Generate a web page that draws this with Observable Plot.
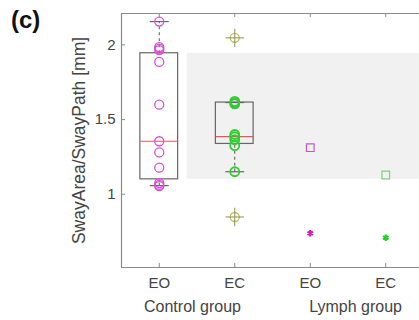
<!DOCTYPE html>
<html>
<head>
<meta charset="utf-8">
<script src="https://cdn.jsdelivr.net/npm/d3@7"></script>
<script src="https://cdn.jsdelivr.net/npm/@observablehq/plot@0.6"></script>
<style>
  body { margin: 0; background: #fff; }
  #wrap { position: relative; width: 419px; height: 320px; overflow: hidden; font-family: "Liberation Sans", Arial, sans-serif; }
  #panel { position: absolute; left: 11px; top: 8px; font-weight: bold; font-size: 24px; color: #111; line-height: 1; }
  #chart { position: absolute; left: 0; top: 0; }
</style>
</head>
<body>
<div id="wrap">
  <div id="chart"></div>
  <div id="panel">(c)</div>
</div>
<script>
// Sway ratio per condition (EO = eyes open, EC = eyes closed)
const conditions = ["EO", "EC", "EO", "EC"];
const conditionPos = [1, 2, 3, 4];
const groupNames = ["Control group", "Lymph group"];
const groupLabelPos = [1.44, 3.6];
const yTicks = [1, 1.5, 2];

// Control group, individual subjects
const controlEO = [2.156, 1.985, 1.975, 1.965, 1.886, 1.60, 1.355, 1.28, 1.178, 1.075, 1.063, 1.055];
const controlEC = [1.622, 1.612, 1.605, 1.40, 1.385, 1.365, 1.326, 1.151];
const controlECOutliers = [2.047, 0.848];

// Box summaries for the control group (EO, EC)
const boxPos = [1, 2];
const boxQ1 = [1.10, 1.337];
const boxMedian = [1.355, 1.386];
const boxQ3 = [1.944, 1.614];
const whiskerLow = [1.058, 1.151];
const whiskerHigh = [2.156, 1.614];

// Lymph group: two subjects per condition
const lymphEOSquare = [1.312];
const lymphEOStar = [0.739];
const lymphECSquare = [1.129];
const lymphECStar = [0.709];

// Reference band: control EO interquartile range
const bandStart = 1.37;
const xDomain = [0.5, 4.447];
const yDomain = [0.51, 2.21];

const boxes = boxPos.map((p, i) => ({
  pos: p, q1: boxQ1[i], med: boxMedian[i], q3: boxQ3[i], lo: whiskerLow[i], hi: whiskerHigh[i]
}));
const half = 0.25, capHalf = 0.125;

const magenta = "#d94fd9";
const green = "#2ecc2e";
const olive = "#b9c25a";
const axisColor = "#8a8a8a";
const textColor = "#444";

const chart = Plot.plot({
  width: 419,
  height: 320,
  marginLeft: 121,
  marginRight: 0,
  marginTop: 13,
  marginBottom: 53,
  x: { domain: xDomain, axis: null },
  y: { domain: yDomain, axis: null },
  style: { fontFamily: "Liberation Sans, Arial, sans-serif", background: "white" },
  marks: [
    // shaded reference band
    Plot.rect([boxes[0]], { x1: bandStart, x2: xDomain[1], y1: "q1", y2: "q3", fill: "#f1f1f1" }),

    // whiskers
    Plot.link(boxes, { x1: "pos", x2: "pos", y1: "q3", y2: "hi", stroke: "#555", strokeDasharray: "3,3", strokeWidth: 1 }),
    Plot.link(boxes, { x1: "pos", x2: "pos", y1: "lo", y2: "q1", stroke: "#555", strokeDasharray: "3,3", strokeWidth: 1 }),
    Plot.link(boxes, { x1: d => d.pos - capHalf, x2: d => d.pos + capHalf, y1: "hi", y2: "hi", stroke: "#666", strokeWidth: 1.2 }),
    Plot.link(boxes, { x1: d => d.pos - capHalf, x2: d => d.pos + capHalf, y1: "lo", y2: "lo", stroke: "#666", strokeWidth: 1.2 }),

    // boxes and medians
    Plot.rect(boxes, { x1: d => d.pos - half, x2: d => d.pos + half, y1: "q1", y2: "q3", stroke: "#666", strokeWidth: 1.2, fill: "none" }),
    Plot.link(boxes, { x1: d => d.pos - half, x2: d => d.pos + half, y1: "med", y2: "med", stroke: "#e25656", strokeWidth: 1.2 }),

    // individual subjects
    Plot.dot(controlEO, { x: () => 1, y: d => d, r: 4.5, stroke: magenta, strokeWidth: 1.3, fill: "none" }),
    Plot.dot(controlEC, { x: () => 2, y: d => d, r: 4.5, stroke: green, strokeWidth: 1.8, fill: "none" }),
    Plot.dot(controlECOutliers, { x: () => 2, y: d => d, r: 4.5, stroke: olive, strokeWidth: 1.3, fill: "none" }),
    Plot.dot(controlECOutliers, { x: () => 2, y: d => d, r: 6, symbol: "plus", stroke: "#8c8f5a", strokeWidth: 1 }),
    Plot.dot(lymphEOSquare, { x: () => 3, y: d => d, r: 4.3, symbol: "square", stroke: "#c35ac3", strokeWidth: 1.2, fill: "none" }),
    Plot.dot(lymphECSquare, { x: () => 4, y: d => d, r: 4.3, symbol: "square", stroke: "#7cd27c", strokeWidth: 1.2, fill: "none" }),
    Plot.dot(lymphEOStar, { x: () => 3, y: d => d, r: 3, symbol: "asterisk", stroke: "#d61fbf", strokeWidth: 2.2 }),
    Plot.dot(lymphECStar, { x: () => 4, y: d => d, r: 3, symbol: "asterisk", stroke: "#22d422", strokeWidth: 2.2 }),

    // axes frame (left, top, bottom)
    Plot.ruleX([xDomain[0]], { stroke: axisColor, strokeWidth: 1.2 }),
    Plot.ruleY([yDomain[1]], { stroke: axisColor, strokeWidth: 1.2 }),
    Plot.ruleY([yDomain[0]], { stroke: axisColor, strokeWidth: 1.2 }),

    // inward tick marks
    Plot.tickY(yTicks, { y: d => d, insetRight: 294, stroke: axisColor }),
    Plot.tickX(conditionPos, { x: d => d, insetBottom: 250, stroke: axisColor }),
    Plot.tickX(conditionPos, { x: d => d, insetTop: 250, stroke: axisColor }),

    // tick labels
    Plot.axisY({ ticks: yTicks, tickFormat: d => String(d), tickSize: 0, tickPadding: 6, fontSize: 15, color: textColor, label: null }),
    Plot.axisX({ ticks: conditionPos, tickFormat: d => conditions[d - 1], tickSize: 0, tickPadding: 10, fontSize: 15, color: textColor, label: null }),

    // group labels and y title
    Plot.text(groupNames, { x: (d, i) => groupLabelPos[i], frameAnchor: "bottom", dy: 39, fontSize: 16, fill: textColor, lineAnchor: "middle" }),
    Plot.text(["SwayArea/SwayPath [mm]"], { frameAnchor: "left", dx: -42, rotate: -90, textAnchor: "middle", fontSize: 17.5, fill: textColor, lineAnchor: "middle" })
  ]
});

document.getElementById("chart").appendChild(chart);
</script>
</body>
</html>
